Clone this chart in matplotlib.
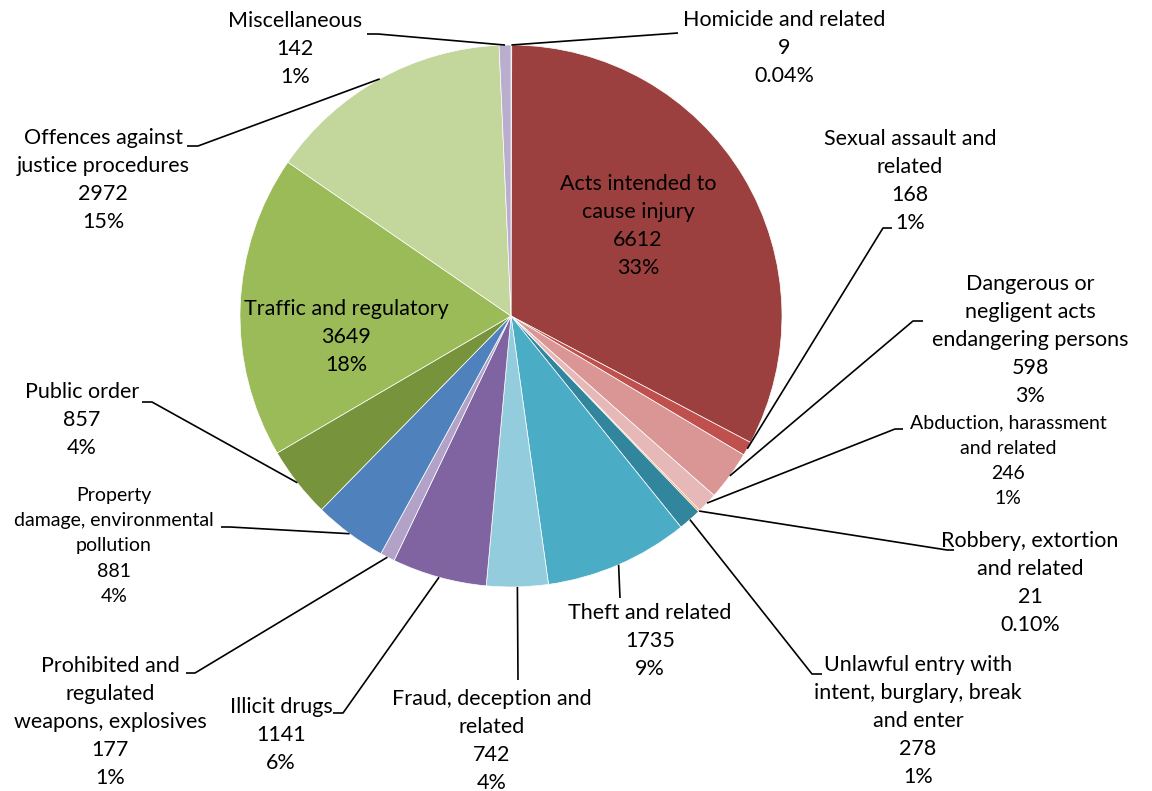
import numpy as np
import matplotlib
matplotlib.use("Agg")
import matplotlib.pyplot as plt

W, H = 1152, 791

# slices, clockwise from 12 o'clock
categories = [
    "Homicide and related",
    "Acts intended to\ncause injury",
    "Sexual assault and\nrelated",
    "Dangerous or\nnegligent acts\nendangering persons",
    "Abduction, harassment\nand related",
    "Robbery, extortion\nand related",
    "Unlawful entry with\nintent, burglary, break\nand enter",
    "Theft and related",
    "Fraud, deception and\nrelated",
    "Illicit drugs",
    "Prohibited and\nregulated\nweapons, explosives",
    "Property\ndamage, environmental\npollution",
    "Public order",
    "Traffic and regulatory",
    "Offences against\njustice procedures",
    "Miscellaneous",
]
values = [9, 6612, 168, 598, 246, 21, 278, 1735, 742, 1141, 177, 881, 857, 3649, 2972, 142]
pct_labels = ["0.04%", "33%", "1%", "3%", "1%", "0.10%", "1%", "9%", "4%", "6%",
              "1%", "4%", "4%", "18%", "15%", "1%"]
colors = ["#953735", "#9B403E", "#C0504D", "#D99694", "#E6B9B8", "#F79646",
          "#31859C", "#4BACC6", "#93CDDD", "#8064A2", "#B3A2C7", "#4F81BD",
          "#77933C", "#9BBB59", "#C3D69B", "#B9AECE"]

# label layout in pixel coords (x, y from top)
label_pos = [(784, 48), (638, 226), (910, 181), (1030, 340), (1008, 461),
             (1030, 583), (918, 721), (650, 641), (492, 741), (281, 735),
             (110, 722), (114, 546), (82, 420), (346, 337), (103, 180), (295, 49)]
small = [False, False, False, False, True, False, False, False, False, False,
         False, True, False, False, False, False]
# leader line points (pixel coords) from the slice edge outwards; None = inside label
leaders = [
    [(678, 33)],
    None,
    [(883, 228), (892, 228)],
    [(913, 321), (923, 321)],
    [(895, 429), (903, 429)],
    [(947, 550), (954, 550)],
    [(812, 674), (822, 674)],
    [(620, 598)],
    [(518, 680)],
    [(343, 713), (333, 713)],
    [(195, 673), (186, 673)],
    [(230, 527), (221, 527)],
    [(152, 402), (142, 402)],
    None,
    [(198, 146), (187, 146)],
    [(378, 34), (367, 34)],
]


def px(x, y):
    return x, H - y


fig = plt.figure(figsize=(W / 100, H / 100), dpi=100)
ax = fig.add_axes([0, 0, 1, 1])

cx, cy = px(511, 316)
r = 271
wedges, _ = ax.pie(values, colors=colors, startangle=90, counterclock=False,
                   center=(cx, cy), radius=r,
                   wedgeprops=dict(edgecolor="white", linewidth=0.5))

ax.set_xlim(0, W)
ax.set_ylim(0, H)
ax.set_aspect("equal")
ax.axis("off")

font = "Lato"
for i, w in enumerate(wedges):
    text = f"{categories[i]}\n{values[i]}\n{pct_labels[i]}"
    tx, ty = px(*label_pos[i])
    ax.text(tx, ty, text, ha="center", va="center", multialignment="center",
            fontsize=14 if small[i] else 15.5, family=font, color="black",
            linespacing=1.59 if small[i] else 1.5)
    if leaders[i] is None:
        continue
    mid = np.deg2rad((w.theta1 + w.theta2) / 2)
    pts = [(cx + r * np.cos(mid), cy + r * np.sin(mid))] + [px(*p) for p in leaders[i]]
    xs, ys = zip(*pts)
    ax.plot(xs, ys, color="black", lw=1.2, solid_capstyle="butt")

fig.savefig("out.png", dpi=100)
